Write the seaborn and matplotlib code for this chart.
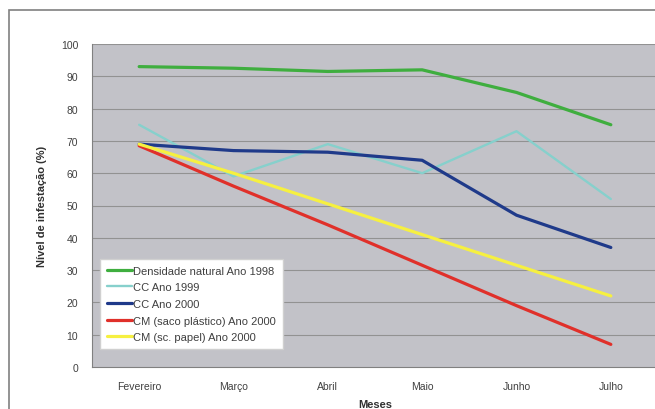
import pandas as pd
import numpy as np
import matplotlib
matplotlib.use("Agg")
import matplotlib.pyplot as plt
import seaborn as sns
from matplotlib.patches import Rectangle

# ----------------------------------------------------------
# DATA
# ----------------------------------------------------------
meses = ["Fevereiro", "Março", "Abril", "Maio", "Junho", "Julho"]

densidade_1998 = [93, 92.5, 91.5, 92, 85, 75]
cc_1999 = [75, 59, 69, 60, 73, 52]
cc_2000 = [69, 67, 66.5, 64, 47, 37]
cm_plastico_2000 = [68.5, 56, 44, 31.5, 19, 7]
cm_papel_2000 = [69, 60, 50.5, 41, 31.5, 22]

series_names = [
    "Densidade natural Ano 1998",
    "CC Ano 1999",
    "CC Ano 2000",
    "CM (saco plástico) Ano 2000",
    "CM (sc. papel) Ano 2000",
]
series_values = [densidade_1998, cc_1999, cc_2000, cm_plastico_2000, cm_papel_2000]

colors = ["#3fae3f", "#86d0cc", "#1f3a8a", "#e0302a", "#f6f040"]
widths = [2.3, 1.7, 2.3, 2.3, 2.3]

rows = []
for name, vals in zip(series_names, series_values):
    for i, v in enumerate(vals):
        rows.append({"Mes": i, "Serie": name, "Valor": v})
df = pd.DataFrame(rows)

# ----------------------------------------------------------
# PLOT
# ----------------------------------------------------------
sns.set_theme(style="white")
plt.rcParams["font.family"] = ["Liberation Sans", "DejaVu Sans"]

fig = plt.figure(figsize=(6.55, 4.1), dpi=100)
ax = fig.add_axes([92 / 655, 1 - 368 / 410, (658 - 92) / 655, (368 - 45) / 410])

ax.set_facecolor("#c2c2c8")
for y in range(10, 101, 10):
    ax.axhline(y, color="#929292", lw=0.8, zorder=0)

for name, c, w in zip(series_names, colors, widths):
    sns.lineplot(
        data=df[df["Serie"] == name],
        x="Mes",
        y="Valor",
        color=c,
        lw=w,
        label=name,
        ax=ax,
    )

ax.set_xlim(-0.5, 5.5)
ax.set_ylim(0, 100)
ax.set_yticks(range(0, 101, 10))
ax.set_xticks(range(len(meses)))
ax.set_xticklabels(meses)
ax.set_xticks(np.arange(-0.5, 5.6, 1), minor=True)
ax.tick_params(axis="x", which="major", length=0, pad=10, labelsize=7.5, colors="#404040")
ax.tick_params(axis="x", which="minor", length=3, color="#808080", direction="out")
ax.tick_params(axis="y", length=4, color="#808080", labelsize=7.5, colors="#404040", pad=6)

for s in ["top", "right"]:
    ax.spines[s].set_visible(False)
ax.spines["left"].set_color("#808080")
ax.spines["bottom"].set_color("#808080")
ax.spines["left"].set_linewidth(0.8)
ax.spines["bottom"].set_linewidth(0.8)

ax.set_xlabel("Meses", fontsize=8, fontweight="bold", color="#303030", labelpad=6)
ax.set_ylabel("Nível de infestação (%)", fontsize=8, fontweight="bold", color="#303030", labelpad=10)

leg = ax.legend(
    loc="lower left",
    bbox_to_anchor=(0.014, 0.056),
    fontsize=8,
    frameon=True,
    fancybox=False,
    handlelength=2.3,
    handletextpad=0.1,
    labelspacing=0.6,
    borderpad=0.6,
    borderaxespad=0,
)
leg.get_frame().set_facecolor("white")
leg.get_frame().set_edgecolor("#d0d0d0")
leg.get_frame().set_alpha(1)
for t in leg.get_texts():
    t.set_color("#404040")

# frame around the figure
fig.patches.append(Rectangle((9 / 655, -0.1), 1.2, 1 - 11 / 410 + 0.1, transform=fig.transFigure,
                             fill=False, edgecolor="#808080", lw=1.2))

plt.savefig("out.png", dpi=100)
